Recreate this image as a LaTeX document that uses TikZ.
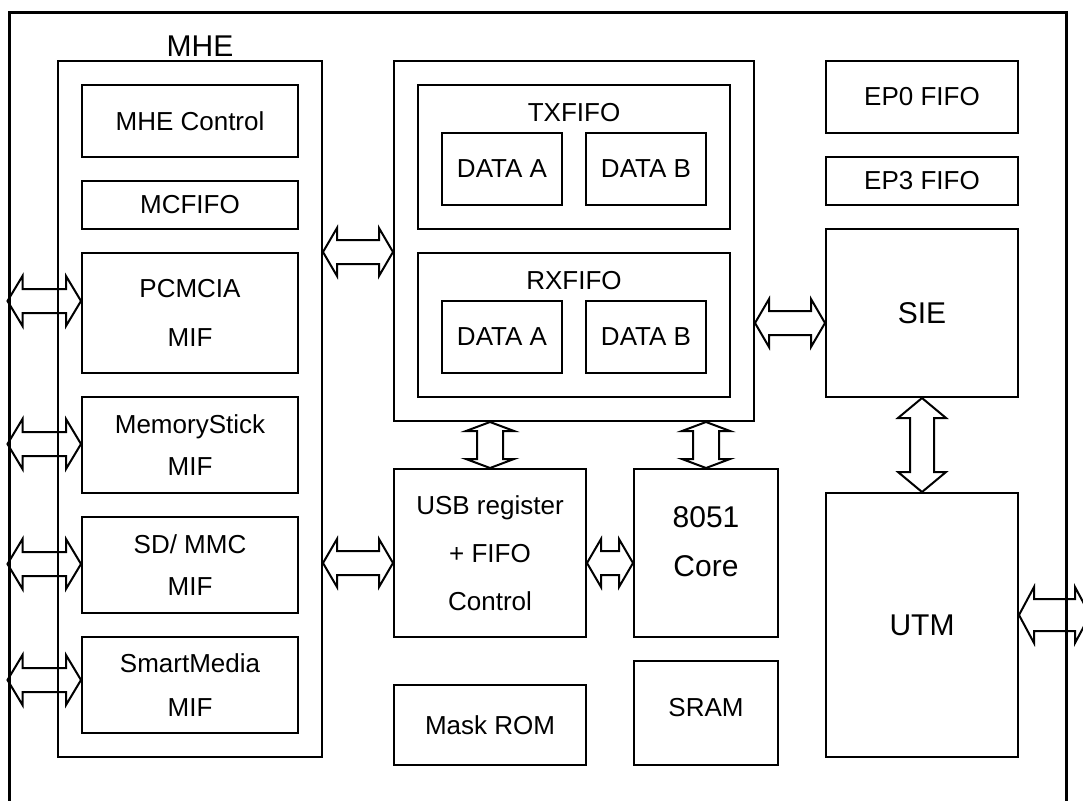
\documentclass[tikz,border=0pt]{standalone}
\usepackage{fontspec}
\setmainfont{Liberation Sans}
\usetikzlibrary{calc}
\tikzset{
  box/.style={draw, line width=2pt, inner sep=0pt, align=center,
    font=\fontsize{26}{48}\selectfont},
  bigbox/.style={box, font=\fontsize{30}{49}\selectfont},
  txt/.style={inner sep=0pt, align=center, font=\fontsize{26}{48}\selectfont},
  bigtxt/.style={txt, font=\fontsize{30}{49}\selectfont},
  arr/.style={draw, line width=2pt, line join=miter},
}
% horizontal hollow double arrow: #1 left end, #2 right end, #3 head length, #4 head half, #5 shaft half
\newcommand\hdarrow[5]{%
  \draw[arr] let \p1=(#1), \p2=(#2) in
    (\p1) -- (\x1+#3,\y1+#4) -- (\x1+#3,\y1+#5) -- (\x2-#3,\y1+#5) -- (\x2-#3,\y1+#4)
    -- (\x2,\y1) -- (\x2-#3,\y1-#4) -- (\x2-#3,\y1-#5) -- (\x1+#3,\y1-#5) -- (\x1+#3,\y1-#4) -- cycle;}
% vertical hollow double arrow: #1 top end, #2 bottom end
\newcommand\vdarrow[5]{%
  \draw[arr] let \p1=(#1), \p2=(#2) in
    (\p1) -- (\x1+#4,\y1-#3) -- (\x1+#5,\y1-#3) -- (\x1+#5,\y2+#3) -- (\x1+#4,\y2+#3)
    -- (\x1,\y2) -- (\x1-#4,\y2+#3) -- (\x1-#5,\y2+#3) -- (\x1-#5,\y1-#3) -- (\x1-#4,\y1-#3) -- cycle;}
\begin{document}
\begin{tikzpicture}[x=1pt, y=-1pt]
\useasboundingbox (0,0) rectangle (1083,800);
\clip (0,0) rectangle (1083,800);
% outer frame
\node[draw, line width=3pt, inner sep=0pt, minimum width=1057pt, minimum height=817pt] (frame) at (537.5,421.5) {};
% MHE block
\node[txt, font=\fontsize{30}{36}\selectfont] (mhelbl) at (200,46) {MHE};
\node[box, minimum width=264pt, minimum height=696pt] (mhe) at (190,409) {};
\node[box, minimum width=216pt, minimum height=72pt] (mhectl) at (190,121) {MHE Control};
\node[box, minimum width=216pt, minimum height=48pt] (mcfifo) at (190,205) {MCFIFO};
\node[box, minimum width=216pt, minimum height=120pt, font=\fontsize{26}{49}\selectfont] (pcmcia) at (190,313) {PCMCIA\\MIF};
\node[box, minimum width=216pt, minimum height=96pt, font=\fontsize{26}{42}\selectfont] (mstick) at (190,445) {MemoryStick\\MIF};
\node[box, minimum width=216pt, minimum height=96pt, font=\fontsize{26}{42}\selectfont] (sdmmc) at (190,565) {SD/ MMC\\MIF};
\node[box, minimum width=216pt, minimum height=96pt, font=\fontsize{26}{44}\selectfont] (smart) at (190,685) {SmartMedia\\MIF};
% FIFO block
\node[box, minimum width=360pt, minimum height=360pt] (fifo) at (574,241) {};
\node[box, minimum width=312pt, minimum height=144pt] (tx) at (574,157) {};
\node[txt] (txlbl) at (574,113) {TXFIFO};
\node[box, minimum width=120pt, minimum height=72pt] (txa) at (502,169) {DATA A};
\node[box, minimum width=120pt, minimum height=72pt] (txb) at (646,169) {DATA B};
\node[box, minimum width=312pt, minimum height=144pt] (rx) at (574,325) {};
\node[txt] (rxlbl) at (574,281) {RXFIFO};
\node[box, minimum width=120pt, minimum height=72pt] (rxa) at (502,337) {DATA A};
\node[box, minimum width=120pt, minimum height=72pt] (rxb) at (646,337) {DATA B};
% right column
\node[box, minimum width=192pt, minimum height=72pt] (ep0) at (922,97) {EP0 FIFO};
\node[box, minimum width=192pt, minimum height=48pt] (ep3) at (922,181) {EP3 FIFO};
\node[bigbox, minimum width=192pt, minimum height=168pt] (sie) at (922,313) {SIE};
\node[bigbox, minimum width=192pt, minimum height=264pt] (utm) at (922,625) {UTM};
% lower middle
\node[box, minimum width=192pt, minimum height=168pt] (usb) at (490,553) {USB register\\+ FIFO\\Control};
\node[box, minimum width=144pt, minimum height=168pt] (core) at (706,553) {};
\node[bigtxt] (corelbl) at (706,542) {8051\\Core};
\node[box, minimum width=192pt, minimum height=80pt] (mask) at (490,725) {Mask ROM};
\node[box, minimum width=144pt, minimum height=104pt] (sram) at (706,713) {};
\node[txt] (sramlbl) at (706,708) {SRAM};
% connector end points
\coordinate (ext) at (1090,615);
% left bus arrows
\hdarrow{frame.west |- 0,301}{pcmcia.west |- 0,301}{15}{25}{12}
\hdarrow{frame.west |- 0,444}{mstick.west |- 0,444}{15}{25}{12}
\hdarrow{frame.west |- 0,564}{sdmmc.west |- 0,564}{15}{25}{12}
\hdarrow{frame.west |- 0,680}{smart.west |- 0,680}{15}{25}{12}
% horizontal arrows
\hdarrow{mhe.east |- 0,252}{fifo.west |- 0,252}{14}{24}{12}
\hdarrow{fifo.east |- 0,323}{sie.west |- 0,323}{14}{24}{12}
\hdarrow{mhe.east |- 0,563}{usb.west |- 0,563}{14}{24}{12}
\hdarrow{usb.east |- 0,563}{core.west |- 0,563}{14}{24}{12}
\hdarrow{utm.east |- ext}{ext}{15}{28}{16}
% vertical arrows
\vdarrow{fifo.south -| usb.north}{usb.north}{9}{24}{13}
\vdarrow{fifo.south -| core.north}{core.north}{9}{24}{13}
\vdarrow{sie.south}{utm.north}{20}{24}{12}
\end{tikzpicture}
\end{document}
